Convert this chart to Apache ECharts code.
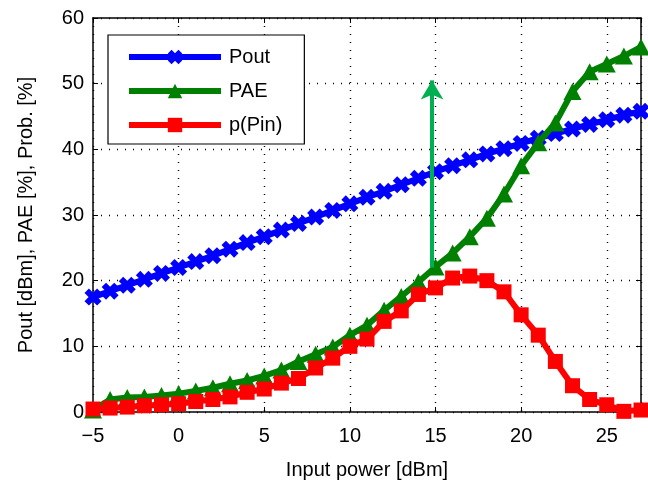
<!DOCTYPE html>
<html>
<head>
<meta charset="utf-8">
<script src="https://cdn.jsdelivr.net/npm/echarts@6/dist/echarts.min.js"></script>
<style>
html,body{margin:0;padding:0;background:#fff;}
#c{width:648px;height:487px;}
</style>
</head>
<body>
<div id="c"></div>
<script>
var inputPower = [-5,-4,-3,-2,-1,0,1,2,3,4,5,6,7,8,9,10,11,12,13,14,15,16,17,18,19,20,21,22,23,24,25,26,27];
var pout = [17.5,18.4,19.3,20.2,21.1,22.0,22.9,23.8,24.8,25.8,26.7,27.7,28.7,29.7,30.7,31.7,32.7,33.6,34.6,35.6,36.6,37.5,38.4,39.3,40.1,40.9,41.7,42.4,43.1,43.8,44.5,45.2,45.8];
var pae = [0.3,1.9,2.2,2.3,2.5,2.8,3.2,3.7,4.3,4.8,5.5,6.4,7.7,8.8,9.9,11.7,13.2,15.5,17.6,19.8,22.1,24.2,26.7,29.5,33.2,37.5,41.0,44.0,48.8,51.8,53.0,54.2,55.6];
var pin = [0.45,0.6,0.75,0.95,1.1,1.25,1.6,1.9,2.3,3.0,3.5,4.4,5.1,6.7,8.2,10.0,11.1,13.8,15.4,17.9,18.9,20.4,20.7,20.0,18.3,14.8,11.7,7.7,4.0,1.9,1.1,0.1,0.3];
var seriesNames = ['Pout','PAE','p(Pin)'];
var xTicks = {min:-5, max:27, interval:5};
var yTicks = {min:0, max:60, interval:10};
var arrowX = 14.8, arrowFrom = 22, arrowTo = 50.5;
var xTitle = 'Input power [dBm]';
var yTitle = 'Pout [dBm], PAE [%], Prob. [%]';

function pairs(ys){ return inputPower.map(function(x,i){ return [x, ys[i]]; }); }

var font = 'Liberation Sans, Arial, sans-serif';
var xMark = 'path://M0,2.6 L2.6,0 L5,2.4 L7.4,0 L10,2.6 L7.6,5 L10,7.4 L7.4,10 L5,7.6 L2.6,10 L0,7.4 L2.4,5 Z';

var chart = echarts.init(document.getElementById('c'), null, {renderer:'canvas'});
var axisCommon = {
  axisLine:{show:true, onZero:false, lineStyle:{color:'#000', width:1.5}},
  axisTick:{show:true, inside:true, length:5, lineStyle:{color:'#000', width:1}}
};
chart.setOption({
  animation:false,
  backgroundColor:'#fff',
  grid:{left:93, right:7, top:18, bottom:75, containLabel:false},
  legend:{
    left:108, top:35, orient:'vertical',
    data:seriesNames,
    backgroundColor:'#fff', borderColor:'#000', borderWidth:1.2,
    padding:[12,22,9,18],
    itemWidth:92, itemHeight:18, itemGap:14,
    lineStyle:{width:6},
    textStyle:{fontFamily:font, fontSize:20, color:'#000', padding:[0,0,0,3]}
  },
  xAxis:[
    Object.assign({type:'value', min:xTicks.min, max:xTicks.max, interval:xTicks.interval, position:'bottom',
      name:xTitle, nameLocation:'middle', nameGap:48,
      nameTextStyle:{fontFamily:font, fontSize:20, color:'#000'},
      axisLabel:{fontFamily:font, fontSize:20, color:'#000', margin:14, showMaxLabel:false,
        formatter:function(v){ return v < 0 ? '\u2212' + Math.abs(v) : String(v); }},
      splitLine:{show:true, lineStyle:{color:'#000', type:[1,7], width:1.4}}
    }, axisCommon),
    Object.assign({type:'value', min:xTicks.min, max:xTicks.max, interval:xTicks.interval, position:'top',
      axisLabel:{show:false}, splitLine:{show:false}}, axisCommon)
  ],
  yAxis:[
    Object.assign({type:'value', min:yTicks.min, max:yTicks.max, interval:yTicks.interval, position:'left',
      name:yTitle, nameLocation:'middle', nameGap:57,
      nameTextStyle:{fontFamily:font, fontSize:20, color:'#000'},
      axisLabel:{fontFamily:font, fontSize:20, color:'#000', margin:9},
      splitLine:{show:true, lineStyle:{color:'#000', type:[1,7], width:1.4}}
    }, axisCommon),
    Object.assign({type:'value', min:yTicks.min, max:yTicks.max, interval:yTicks.interval, position:'right',
      axisLabel:{show:false}, splitLine:{show:false}}, axisCommon)
  ],
  series:[
    {name:seriesNames[0], type:'line', data:pairs(pout), symbol:xMark, symbolSize:17,
      lineStyle:{color:'#0000ff', width:6}, itemStyle:{color:'#0000ff'}, z:3},
    {name:seriesNames[1], type:'line', data:pairs(pae), symbol:'triangle', symbolSize:[18,17],
      lineStyle:{color:'#008000', width:6}, itemStyle:{color:'#008000'}, z:4},
    {name:seriesNames[2], type:'line', data:pairs(pin), symbol:'rect', symbolSize:15,
      lineStyle:{color:'#ff0000', width:6}, itemStyle:{color:'#ff0000'}, z:5,
      markLine:{silent:true, symbol:['none','arrow'], symbolSize:[17,19], label:{show:false},
        lineStyle:{color:'#00b050', width:4, type:'solid'},
        data:[[{coord:[arrowX, arrowFrom]},{coord:[arrowX, arrowTo]}]]}
    }
  ]
});
</script>
</body>
</html>
